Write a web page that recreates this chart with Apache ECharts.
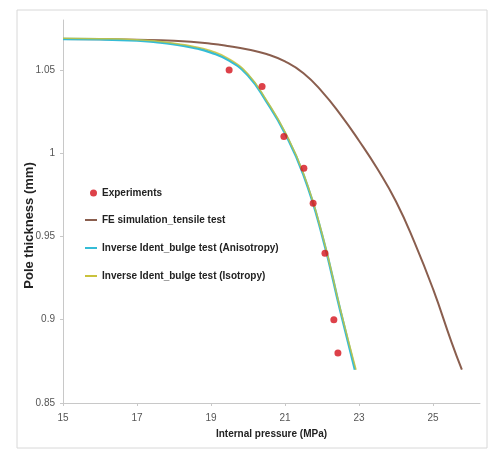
<!DOCTYPE html>
<html>
<head>
<meta charset="utf-8">
<script src="https://cdn.jsdelivr.net/npm/echarts@6/dist/echarts.min.js"></script>
<style>html,body{margin:0;padding:0;background:#fff;}#c{width:493px;height:452px;}</style>
</head>
<body>
<div id="c"></div>
<script>
// Experimental points [pressure MPa, thickness mm]
var experiments = [[19.49,1.050],[20.38,1.040],[20.97,1.010],[21.51,0.991],[21.76,0.970],[22.08,0.940],[22.32,0.900],[22.43,0.880]];
// FE simulation_tensile test
var feTensile = [[15,1.0686],[16,1.0685],[17,1.0682],[18,1.0675],[19,1.0658],[19.5,1.0643],[20,1.0623],[20.5,1.0596],[21,1.0551],[21.5,1.0480],[22,1.0370],[22.5,1.0232],[23,1.0075],[23.5,0.9905],[24,0.9710],[24.5,0.9465],[25,0.9185],[25.5,0.8866],[25.78,0.8700]];
// Inverse Ident_bulge test (Anisotropy)
var inverseAniso = [[15,1.0686],[16,1.0684],[17,1.0677],[17.5,1.0668],[18,1.0655],[18.5,1.0635],[19,1.0605],[19.5,1.0555],[20,1.0467],[20.5,1.0310],[21,1.0120],[21.5,0.9870],[22,0.9510],[22.5,0.9050],[22.89,0.8700]];
// Inverse Ident_bulge test (Isotropy)
var inverseIso = [[15,1.0690],[16,1.0688],[17,1.0682],[17.5,1.0674],[18,1.0660],[18.5,1.0643],[19,1.0615],[19.5,1.0565],[20,1.0475],[20.5,1.0318],[21,1.0128],[21.5,0.9878],[22,0.9518],[22.5,0.9060],[22.92,0.8700]];
var xTicks = [15,17,19,21,23,25];
var yTicks = [0.85,0.9,0.95,1,1.05];

var chart = echarts.init(document.getElementById('c'), null, {renderer:'canvas'});
var font = 'Liberation Sans, Arial, sans-serif';
var legendText = {fontFamily:font,fontSize:10,fontWeight:'bold',color:'#222'};
chart.setOption({
  animation:false,
  backgroundColor:'#fff',
  graphic:[{type:'rect',shape:{x:17,y:10,width:470,height:438},style:{fill:'none',stroke:'#d8d8d8',lineWidth:1},z:-1}],
  grid:{left:63,right:13,top:20,bottom:49},
  legend:[{
    orient:'vertical', left:85, top:183, itemWidth:7, itemHeight:7,
    textStyle:legendText,
    data:[{name:'Experiments',icon:'circle'}]
  },{
    orient:'vertical', left:80, top:210, itemGap:18, itemWidth:12, itemHeight:2,
    textStyle:legendText,
    data:[
      {name:'FE simulation_tensile test',icon:'rect'},
      {name:'Inverse Ident_bulge test (Anisotropy)',icon:'rect'},
      {name:'Inverse Ident_bulge test (Isotropy)',icon:'rect'}
    ]
  }],
  xAxis:{
    type:'value', min:15, max:26.27, interval:2,
    name:'Internal pressure (MPa)', nameLocation:'middle', nameGap:26,
    nameTextStyle:{fontFamily:font,fontSize:10,fontWeight:'bold',color:'#222'},
    axisLine:{show:true,lineStyle:{color:'#c8c8c8'}},
    axisTick:{show:true,length:3,lineStyle:{color:'#c8c8c8'}},
    axisLabel:{showMaxLabel:false,fontFamily:font,fontSize:10,color:'#555',margin:10,
      formatter:function(v){return xTicks.indexOf(v)>=0?String(v):'';}},
    splitLine:{show:false}
  },
  yAxis:{
    type:'value', min:0.85, max:1.08, interval:0.05,
    name:'Pole thickness (mm)', nameLocation:'middle', nameGap:27, nameRotate:90, nameMoveOverlap:false,
    nameTextStyle:{fontFamily:font,fontSize:13,fontWeight:'bold',color:'#222',padding:[0,28,0,0]},
    axisLine:{show:true,lineStyle:{color:'#c8c8c8'}},
    axisTick:{show:true,length:3,lineStyle:{color:'#c8c8c8'}},
    axisLabel:{showMaxLabel:false,fontFamily:font,fontSize:10,color:'#555',margin:8,
      formatter:function(v){var r=Math.round(v*100)/100;return yTicks.indexOf(r)>=0?String(r):'';}},
    splitLine:{show:false}
  },
  series:[
    {name:'Experiments',type:'scatter',data:experiments,symbol:'circle',symbolSize:7,itemStyle:{color:'#d4121c'},z:5},
    {name:'FE simulation_tensile test',type:'line',data:feTensile,smooth:0.5,showSymbol:false,symbol:'none',lineStyle:{color:'#8a5e4e',width:2},itemStyle:{color:'#8a5e4e'}},
    {name:'Inverse Ident_bulge test (Anisotropy)',type:'line',data:inverseAniso,smooth:0.5,showSymbol:false,symbol:'none',lineStyle:{color:'#35bcd6',width:2.5},itemStyle:{color:'#35bcd6'}},
    {name:'Inverse Ident_bulge test (Isotropy)',type:'line',data:inverseIso,smooth:0.5,showSymbol:false,symbol:'none',lineStyle:{color:'#c9c23c',width:1.5,opacity:0.85},itemStyle:{color:'#c9c23c'}}
  ]
});
</script>
</body>
</html>
